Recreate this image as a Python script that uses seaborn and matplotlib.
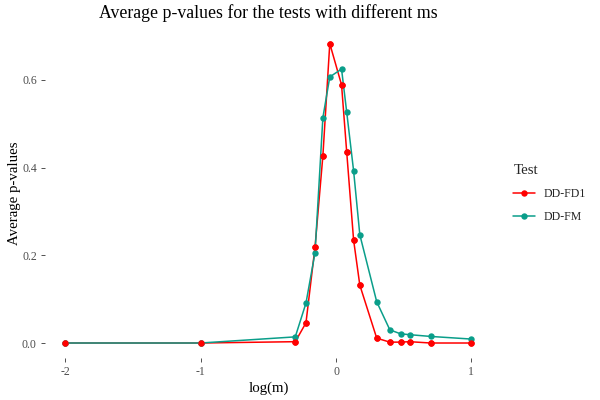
import matplotlib
matplotlib.use("Agg")
import matplotlib.pyplot as plt
import seaborn as sns
import numpy as np
import pandas as pd

# data
log_m = [-2.0, -1.0, -0.301, -0.222, -0.155, -0.097, -0.046, 0.041, 0.079, 0.13,
         0.176, 0.301, 0.398, 0.477, 0.544, 0.699, 1.0]
dd_fd1 = [0.0, 0.0, 0.003, 0.046, 0.219, 0.427, 0.683, 0.589, 0.436, 0.235,
          0.132, 0.011, 0.002, 0.002, 0.003, 0.0, 0.0]
dd_fm = [0.0, 0.0, 0.014, 0.091, 0.206, 0.514, 0.607, 0.625, 0.527, 0.393,
         0.247, 0.094, 0.030, 0.021, 0.019, 0.015, 0.009]
series_names = ["DD-FD1", "DD-FM"]
colors = ["#FF0000", "#0A9E8A"]

df = pd.DataFrame({
    "log(m)": log_m * 2,
    "Average p-values": dd_fd1 + dd_fm,
    "Test": [series_names[0]] * len(log_m) + [series_names[1]] * len(log_m),
})

sns.set_theme(style="white")
plt.rcParams["font.family"] = ["Liberation Serif", "DejaVu Serif"]

fig = plt.figure(figsize=(6, 4), dpi=100)
ax = fig.add_axes([45.1 / 600, (400 - 358) / 400, (491.6 - 45.1) / 600, (358 - 28.7) / 400])

sns.lineplot(data=df, x="log(m)", y="Average p-values", hue="Test",
             palette=colors, marker="o", markersize=4.6, markeredgewidth=0,
             linewidth=1.1, ax=ax, legend=True)
# red points drawn on top, as in the reference
sns.scatterplot(data=df[df["Test"] == series_names[0]], x="log(m)", y="Average p-values",
                color=colors[0], s=21, linewidth=0, ax=ax, legend=False, zorder=5)

ax.set_xlim(-2.15, 1.15)
ax.set_ylim(-0.0342, 0.717)
ax.set_xticks([-2, -1, 0, 1])
ax.set_xticklabels(["-2", "-1", "0", "1"])
ax.set_yticks([0.0, 0.2, 0.4, 0.6])
ax.set_yticklabels(["0.0", "0.2", "0.4", "0.6"])
for s in ax.spines.values():
    s.set_visible(False)
ax.tick_params(axis="both", colors="#333333", labelcolor="#4D4D4D",
               labelsize=8.5, length=3, width=0.6, direction="out", pad=3)
ax.tick_params(bottom=True, left=True)
ax.grid(False)
ax.set_xlabel("log(m)", fontsize=10.7, color="black", labelpad=2)
ax.set_ylabel("Average p-values", fontsize=10.7, color="black", labelpad=1)
ax.set_title("Average p-values for the tests with different ms", fontsize=12.8,
             color="black", pad=8)

leg = ax.legend(title="Test", frameon=False, loc="center left",
                bbox_to_anchor=(1.025, 0.5), fontsize=8.5, title_fontsize=10.7,
                handlelength=1.8, labelspacing=0.95, alignment="left")
for line in leg.get_lines():
    line.set_linewidth(1.1)

fig.savefig("out.png", dpi=100)
